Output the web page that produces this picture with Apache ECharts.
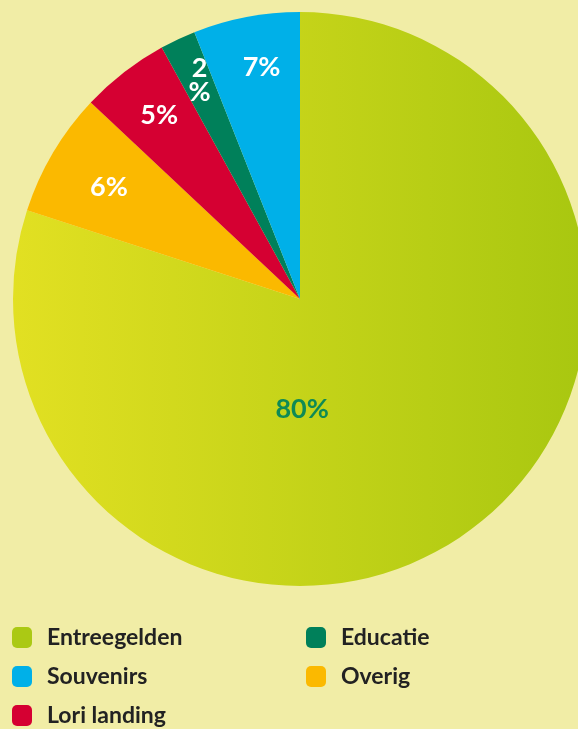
<!DOCTYPE html>
<html>
<head>
<meta charset="utf-8">
<script src="https://cdn.jsdelivr.net/npm/echarts@6/dist/echarts.min.js"></script>
<style>
  html, body { margin: 0; padding: 0; background: #f1eda6; }
  #pie { width: 578px; height: 729px; }
</style>
</head>
<body>
<div id="pie"></div>
<script>
var myChart = echarts.init(document.getElementById("pie"));

// slices clockwise from 12 o'clock, as drawn
var categories = ['Entreegelden', 'Overig', 'Lori landing', 'Educatie', 'Souvenirs'];
var values = [80, 7, 5, 2, 6];
// printed labels (as they appear on the picture)
var labelTexts = ['80%', '6%', '5%', '2\n%', '7%'];
var colors = ['#c3d219', '#fbb900', '#d50032', '#00805a', '#00b0e8'];
// legend columns
var legendCol1 = ['Entreegelden', 'Souvenirs', 'Lori landing'];
var legendCol2 = ['Educatie', 'Overig'];

var greenFill = new echarts.graphic.LinearGradient(0, 0, 1, 0, [
    {offset: 0, color: '#e2e022'},
    {offset: 1, color: '#a8c710'}
]);

// label nudges from the default inside position
var labelOffsets = [[-84, -8], [-65, -37], [-51, -68], [-38, -86], [-11, -88]];

var pieData = [];
for (var i = 0; i < categories.length; i++) {
    pieData.push({
        name: categories[i],
        value: values[i],
        itemStyle: {color: i == 0 ? greenFill : colors[i]},
        label: {
            offset: labelOffsets[i],
            color: i == 0 ? '#0f8a55' : '#ffffff'
        }
    });
}

var legendColors = {
    'Entreegelden': '#abc914', 'Overig': '#fbb900', 'Lori landing': '#d50032',
    'Educatie': '#00805a', 'Souvenirs': '#00b0e8'
};

function makeLegend(names, left) {
    return {
        data: names.map(function (n) {
            return {name: n, itemStyle: {color: legendColors[n]}};
        }),
        orient: 'vertical',
        left: left,
        top: 626,
        height: 150,
        padding: 0,
        itemWidth: 20,
        itemHeight: 21,
        itemGap: 16,
        icon: 'roundRect',
        selectedMode: false,
        textStyle: {
            fontFamily: 'Lato',
            fontWeight: 'bold',
            fontSize: 23,
            lineHeight: 21,
            color: '#222222',
            padding: [0, 0, 0, 10]
        }
    };
}

option = {
    backgroundColor: '#f1eda6',
    animation: false,
    legend: [makeLegend(legendCol1, 12), makeLegend(legendCol2, 306)],
    series: [{
        type: 'pie',
        center: [300, 299],
        radius: [0, 287],
        startAngle: 90,
        clockwise: true,
        label: {
            show: true,
            position: 'inside',
            fontFamily: 'Lato',
            fontWeight: 'bold',
            fontSize: 27,
            lineHeight: 24,
            formatter: function (p) { return labelTexts[p.dataIndex]; }
        },
        labelLine: {show: false},
        emphasis: {disabled: true},
        data: pieData
    }]
};

myChart.setOption(option);
</script>
</body>
</html>
